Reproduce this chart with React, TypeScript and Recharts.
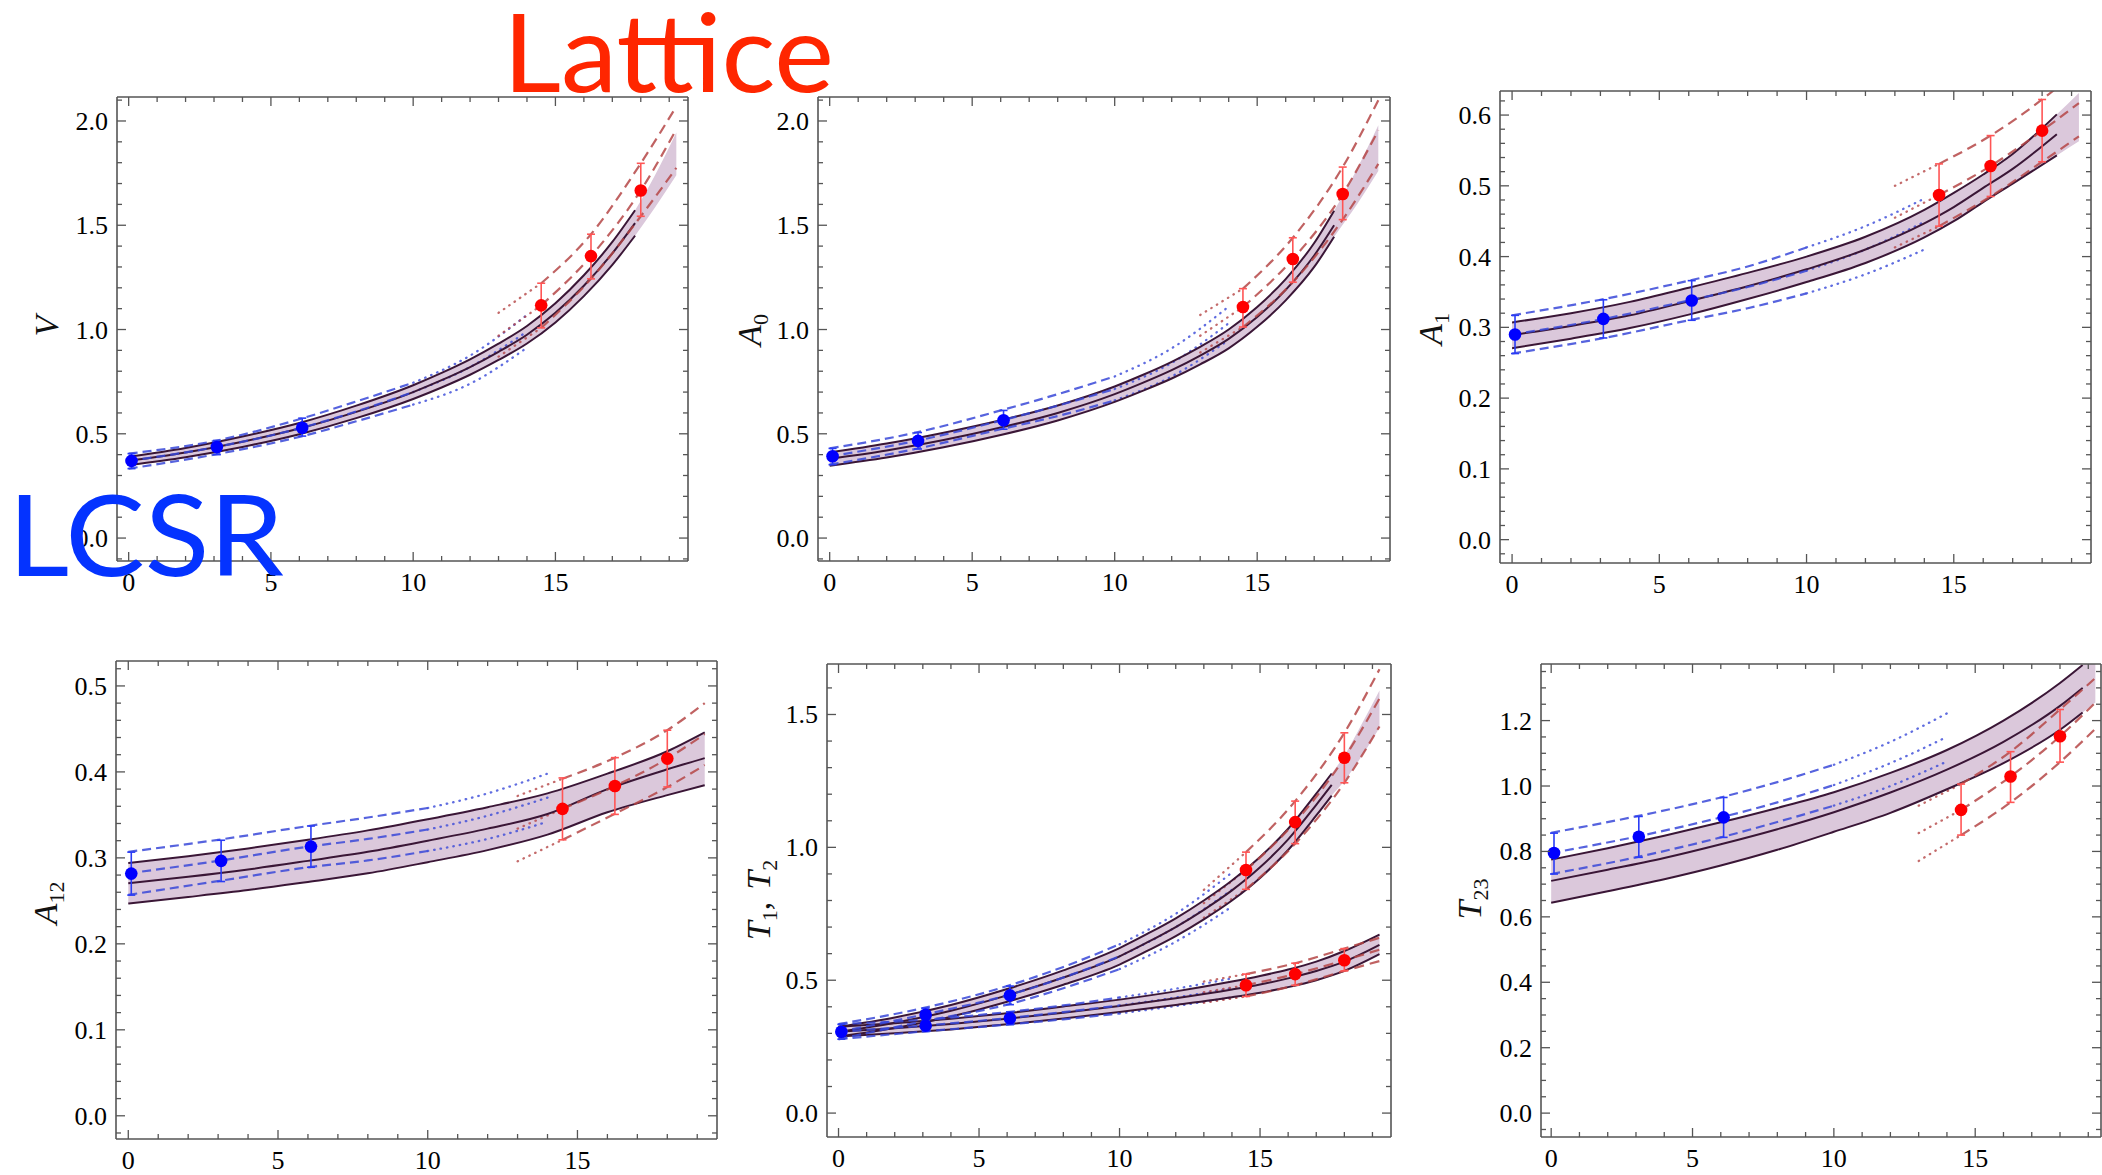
import React from 'react';
import { ComposedChart, Line, Area, Scatter, XAxis, YAxis, ErrorBar } from 'recharts';

// ---------------- tick labels ----------------
const X_MAJOR = [0, 5, 10, 15];
const X_TICKS = [0, 1, 2, 3, 4, 5, 6, 7, 8, 9, 10, 11, 12, 13, 14, 15, 16, 17, 18, 19];
const V_Y_MAJOR = [0, 0.5, 1, 1.5, 2];
const A0_Y_MAJOR = [0, 0.5, 1, 1.5, 2];
const A1_Y_MAJOR = [0, 0.1, 0.2, 0.3, 0.4, 0.5, 0.6];
const A12_Y_MAJOR = [0, 0.1, 0.2, 0.3, 0.4, 0.5];
const T12_Y_MAJOR = [0, 0.5, 1, 1.5];
const T23_Y_MAJOR = [0, 0.2, 0.4, 0.6, 0.8, 1.0, 1.2];

// ---------------- V ----------------
const V_FIT_Q = [0, 2, 4, 6, 8, 10, 11, 12, 13, 14, 15, 16, 17, 17.8];
const V_FIT_HI = [0.39, 0.432, 0.487, 0.552, 0.635, 0.733, 0.792, 0.857, 0.932, 1.017, 1.126, 1.26, 1.42, 1.572];
const V_FIT_MID = [0.37, 0.41, 0.462, 0.525, 0.605, 0.7, 0.757, 0.82, 0.893, 0.975, 1.08, 1.21, 1.365, 1.51];
const V_FIT_LO = [0.35, 0.388, 0.437, 0.498, 0.575, 0.667, 0.722, 0.783, 0.854, 0.933, 1.034, 1.16, 1.31, 1.45];
const V_BAND_Q = [0, 2, 4, 6, 8, 10, 11, 12, 13, 14, 15, 16, 17, 17.8, 18.5, 19.25];
const V_BAND_HI = [0.39, 0.432, 0.487, 0.552, 0.635, 0.733, 0.792, 0.857, 0.932, 1.017, 1.126, 1.26, 1.42, 1.572, 1.74, 1.945];
const V_BAND_LO = [0.35, 0.388, 0.437, 0.498, 0.575, 0.667, 0.722, 0.783, 0.854, 0.933, 1.034, 1.16, 1.31, 1.45, 1.585, 1.74];
const V_LCSR_Q = [0, 3, 6, 8, 10];
const V_LCSR_HI = [0.405, 0.465, 0.57, 0.655, 0.745];
const V_LCSR_MID = [0.37, 0.435, 0.526, 0.607, 0.7];
const V_LCSR_LO = [0.333, 0.4, 0.485, 0.56, 0.64];
const V_LCSR_EXT_Q = [10, 12, 14];
const V_LCSR_EXT_HI = [0.745, 0.875, 1.07];
const V_LCSR_EXT_MID = [0.7, 0.82, 0.99];
const V_LCSR_EXT_LO = [0.64, 0.74, 0.913];
const V_LAT_EXT_Q = [13, 14.5];
const V_LAT_EXT_HI = [1.08, 1.222];
const V_LAT_EXT_MID = [0.97, 1.116];
const V_LAT_EXT_LO = [0.87, 1.008];
const V_LAT_Q = [14.5, 16.25, 18, 19.25];
const V_LAT_HI = [1.222, 1.457, 1.797, 2.07];
const V_LAT_MID = [1.116, 1.352, 1.667, 1.96];
const V_LAT_LO = [1.008, 1.243, 1.543, 1.775];
const V_PT_LCSR_Q = [0.1, 3.1, 6.1];
const V_PT_LCSR_V = [0.37, 0.437, 0.529];
const V_PT_LCSR_ELO = [0.037, 0.037, 0.04];
const V_PT_LCSR_EHI = [0.035, 0.031, 0.046];
const V_PT_LAT_Q = [14.5, 16.25, 18];
const V_PT_LAT_V = [1.116, 1.352, 1.667];
const V_PT_LAT_ELO = [0.108, 0.109, 0.124];
const V_PT_LAT_EHI = [0.106, 0.105, 0.13];

// ---------------- A0 ----------------
const A0_FIT_Q = [0, 2, 4, 6, 8, 10, 11, 12, 13, 14, 15, 16, 17, 17.7];
const A0_FIT_HI = [0.41, 0.453, 0.505, 0.565, 0.636, 0.727, 0.783, 0.845, 0.917, 1.0, 1.108, 1.242, 1.415, 1.57];
const A0_FIT_MID = [0.38, 0.42, 0.47, 0.53, 0.6, 0.69, 0.745, 0.805, 0.875, 0.955, 1.06, 1.19, 1.355, 1.5];
const A0_FIT_LO = [0.347, 0.386, 0.435, 0.494, 0.564, 0.653, 0.707, 0.765, 0.833, 0.91, 1.013, 1.14, 1.3, 1.445];
const A0_BAND_Q = [0, 2, 4, 6, 8, 10, 11, 12, 13, 14, 15, 16, 17, 17.7, 18.5, 19.25];
const A0_BAND_HI = [0.41, 0.453, 0.505, 0.565, 0.636, 0.727, 0.783, 0.845, 0.917, 1.0, 1.108, 1.242, 1.415, 1.57, 1.77, 1.98];
const A0_BAND_LO = [0.347, 0.386, 0.435, 0.494, 0.564, 0.653, 0.707, 0.765, 0.833, 0.91, 1.013, 1.14, 1.3, 1.445, 1.6, 1.76];
const A0_LCSR_Q = [0, 3, 6, 8, 10];
const A0_LCSR_HI = [0.43, 0.505, 0.612, 0.69, 0.775];
const A0_LCSR_MID = [0.392, 0.465, 0.563, 0.635, 0.715];
const A0_LCSR_LO = [0.352, 0.427, 0.522, 0.585, 0.66];
const A0_LCSR_EXT_Q = [10, 12, 14];
const A0_LCSR_EXT_HI = [0.775, 0.91, 1.11];
const A0_LCSR_EXT_MID = [0.715, 0.84, 1.03];
const A0_LCSR_EXT_LO = [0.66, 0.775, 0.95];
const A0_LAT_EXT_Q = [13, 14.5];
const A0_LAT_EXT_HI = [1.07, 1.196];
const A0_LAT_EXT_MID = [0.97, 1.108];
const A0_LAT_EXT_LO = [0.89, 1.012];
const A0_LAT_Q = [14.5, 16.25, 18, 19.25];
const A0_LAT_HI = [1.196, 1.44, 1.779, 2.1];
const A0_LAT_MID = [1.108, 1.338, 1.65, 1.955];
const A0_LAT_LO = [1.012, 1.227, 1.527, 1.794];
const A0_PT_LCSR_Q = [0.1, 3.1, 6.1];
const A0_PT_LCSR_V = [0.392, 0.466, 0.565];
const A0_PT_LCSR_ELO = [0.04, 0.039, 0.043];
const A0_PT_LCSR_EHI = [0.038, 0.04, 0.047];
const A0_PT_LAT_Q = [14.5, 16.25, 18];
const A0_PT_LAT_V = [1.108, 1.338, 1.65];
const A0_PT_LAT_ELO = [0.096, 0.111, 0.123];
const A0_PT_LAT_EHI = [0.088, 0.102, 0.129];

// ---------------- A1 ----------------
const A1_FIT_Q = [0, 2, 4, 6, 8, 10, 12, 14, 15, 16, 17, 18.5];
const A1_FIT_HI = [0.307, 0.32, 0.336, 0.356, 0.377, 0.4, 0.428, 0.466, 0.49, 0.516, 0.545, 0.601];
const A1_FIT_MID = [0.289, 0.302, 0.317, 0.337, 0.358, 0.382, 0.41, 0.447, 0.47, 0.497, 0.524, 0.573];
const A1_FIT_LO = [0.2705, 0.284, 0.299, 0.318, 0.34, 0.364, 0.391, 0.427, 0.45, 0.477, 0.503, 0.543];
const A1_BAND_Q = [0, 2, 4, 6, 8, 10, 12, 14, 15, 16, 17, 18.5, 19.25];
const A1_BAND_HI = [0.307, 0.32, 0.336, 0.356, 0.377, 0.4, 0.428, 0.466, 0.49, 0.516, 0.545, 0.601, 0.631];
const A1_BAND_LO = [0.2705, 0.284, 0.299, 0.318, 0.34, 0.364, 0.391, 0.427, 0.45, 0.477, 0.503, 0.543, 0.563];
const A1_LCSR_Q = [0, 3, 6, 8, 10];
const A1_LCSR_HI = [0.317, 0.339, 0.366, 0.386, 0.413];
const A1_LCSR_MID = [0.29, 0.311, 0.338, 0.357, 0.38];
const A1_LCSR_LO = [0.263, 0.284, 0.31, 0.327, 0.348];
const A1_LCSR_EXT_Q = [10, 12, 14];
const A1_LCSR_EXT_HI = [0.413, 0.443, 0.482];
const A1_LCSR_EXT_MID = [0.38, 0.41, 0.449];
const A1_LCSR_EXT_LO = [0.348, 0.375, 0.41];
const A1_LAT_EXT_Q = [13, 14.5];
const A1_LAT_EXT_HI = [0.5, 0.531];
const A1_LAT_EXT_MID = [0.455, 0.487];
const A1_LAT_EXT_LO = [0.413, 0.443];
const A1_LAT_Q = [14.5, 16.25, 18, 19.25];
const A1_LAT_HI = [0.531, 0.571, 0.622, 0.665];
const A1_LAT_MID = [0.487, 0.528, 0.578, 0.617];
const A1_LAT_LO = [0.443, 0.485, 0.534, 0.57];
const A1_PT_LCSR_Q = [0.1, 3.1, 6.1];
const A1_PT_LCSR_V = [0.29, 0.312, 0.338];
const A1_PT_LCSR_ELO = [0.027, 0.027, 0.028];
const A1_PT_LCSR_EHI = [0.027, 0.027, 0.028];
const A1_PT_LAT_Q = [14.5, 16.25, 18];
const A1_PT_LAT_V = [0.487, 0.528, 0.578];
const A1_PT_LAT_ELO = [0.044, 0.043, 0.044];
const A1_PT_LAT_EHI = [0.044, 0.043, 0.044];

// ---------------- A12 ----------------
const A12_FIT_Q = [0, 2, 4, 6, 8, 10, 12, 14, 16, 18, 19.25];
const A12_FIT_HI = [0.294, 0.302, 0.311, 0.321, 0.332, 0.345, 0.359, 0.375, 0.398, 0.424, 0.446];
const A12_FIT_MID = [0.2706, 0.278, 0.2865, 0.2965, 0.307, 0.32, 0.334, 0.351, 0.38, 0.403, 0.416];
const A12_FIT_LO = [0.247, 0.2545, 0.2625, 0.272, 0.282, 0.295, 0.309, 0.327, 0.353, 0.373, 0.3845];
const A12_LCSR_Q = [0, 3, 6, 8, 10];
const A12_LCSR_HI = [0.307, 0.321, 0.337, 0.347, 0.358];
const A12_LCSR_MID = [0.282, 0.2965, 0.313, 0.322, 0.333];
const A12_LCSR_LO = [0.257, 0.273, 0.289, 0.297, 0.308];
const A12_LCSR_EXT_Q = [10, 12, 14];
const A12_LCSR_EXT_HI = [0.358, 0.375, 0.398];
const A12_LCSR_EXT_MID = [0.333, 0.349, 0.37];
const A12_LCSR_EXT_LO = [0.308, 0.322, 0.342];
const A12_LAT_EXT_Q = [13, 14.5];
const A12_LAT_EXT_HI = [0.372, 0.392];
const A12_LAT_EXT_MID = [0.334, 0.357];
const A12_LAT_EXT_LO = [0.296, 0.321];
const A12_LAT_Q = [14.5, 16.25, 18, 19.25];
const A12_LAT_HI = [0.392, 0.4165, 0.4486, 0.48];
const A12_LAT_MID = [0.357, 0.3836, 0.4155, 0.444];
const A12_LAT_LO = [0.321, 0.3513, 0.3823, 0.408];
const A12_PT_LCSR_Q = [0.1, 3.1, 6.1];
const A12_PT_LCSR_V = [0.2817, 0.2965, 0.3131];
const A12_PT_LCSR_ELO = [0.025, 0.024, 0.024];
const A12_PT_LCSR_EHI = [0.025, 0.024, 0.024];
const A12_PT_LAT_Q = [14.5, 16.25, 18];
const A12_PT_LAT_V = [0.357, 0.3836, 0.4155];
const A12_PT_LAT_ELO = [0.036, 0.033, 0.033];
const A12_PT_LAT_EHI = [0.036, 0.033, 0.033];

// ---------------- T1 ----------------
const T1_FIT_Q = [0, 2, 4, 6, 8, 10, 11, 12, 13, 14, 15, 16, 17, 17.55];
const T1_FIT_HI = [0.325, 0.36, 0.407, 0.467, 0.537, 0.621, 0.675, 0.733, 0.8, 0.875, 0.964, 1.07, 1.202, 1.278];
const T1_FIT_MID = [0.306, 0.34, 0.385, 0.443, 0.51, 0.59, 0.643, 0.7, 0.765, 0.838, 0.925, 1.03, 1.16, 1.235];
const T1_FIT_LO = [0.288, 0.32, 0.363, 0.419, 0.483, 0.559, 0.611, 0.666, 0.729, 0.8, 0.885, 0.99, 1.12, 1.195];
const T1_BAND_Q = [0, 2, 4, 6, 8, 10, 11, 12, 13, 14, 15, 16, 17, 17.55, 18, 18.6, 19.25];
const T1_BAND_HI = [0.325, 0.36, 0.407, 0.467, 0.537, 0.621, 0.675, 0.733, 0.8, 0.875, 0.964, 1.07, 1.202, 1.278, 1.345, 1.46, 1.59];
const T1_BAND_LO = [0.288, 0.32, 0.363, 0.419, 0.483, 0.559, 0.611, 0.666, 0.729, 0.8, 0.885, 0.99, 1.12, 1.195, 1.25, 1.34, 1.45];
const T1_LCSR_Q = [0, 3, 6, 8, 10];
const T1_LCSR_HI = [0.335, 0.395, 0.478, 0.55, 0.635];
const T1_LCSR_MID = [0.306, 0.37, 0.443, 0.51, 0.59];
const T1_LCSR_LO = [0.278, 0.345, 0.408, 0.47, 0.542];
const T1_LCSR_EXT_Q = [10, 12, 14];
const T1_LCSR_EXT_HI = [0.635, 0.75, 0.905];
const T1_LCSR_EXT_MID = [0.59, 0.7, 0.84];
const T1_LCSR_EXT_LO = [0.542, 0.645, 0.777];
const T1_LAT_EXT_Q = [13, 14.5];
const T1_LAT_EXT_HI = [0.84, 0.982];
const T1_LAT_EXT_MID = [0.79, 0.915];
const T1_LAT_EXT_LO = [0.735, 0.842];
const T1_LAT_Q = [14.5, 16.25, 18, 19.25];
const T1_LAT_HI = [0.982, 1.174, 1.431, 1.67];
const T1_LAT_MID = [0.915, 1.095, 1.337, 1.56];
const T1_LAT_LO = [0.842, 1.014, 1.243, 1.455];
const T1_PT_LCSR_Q = [0.1, 3.1, 6.1];
const T1_PT_LCSR_V = [0.306, 0.37, 0.443];
const T1_PT_LCSR_ELO = [0.028, 0.025, 0.035];
const T1_PT_LCSR_EHI = [0.028, 0.025, 0.035];
const T1_PT_LAT_Q = [14.5, 16.25, 18];
const T1_PT_LAT_V = [0.915, 1.095, 1.337];
const T1_PT_LAT_ELO = [0.073, 0.081, 0.094];
const T1_PT_LAT_EHI = [0.067, 0.079, 0.094];

// ---------------- T2 ----------------
const T2_FIT_Q = [0, 2, 4, 6, 8, 10, 12, 14, 15, 16, 17, 18, 19.25];
const T2_FIT_HI = [0.325, 0.338, 0.355, 0.376, 0.401, 0.427, 0.458, 0.495, 0.516, 0.54, 0.57, 0.61, 0.672];
const T2_FIT_MID = [0.306, 0.319, 0.335, 0.355, 0.378, 0.403, 0.432, 0.465, 0.484, 0.507, 0.535, 0.57, 0.633];
const T2_FIT_LO = [0.288, 0.3, 0.315, 0.334, 0.356, 0.38, 0.407, 0.436, 0.453, 0.474, 0.5, 0.535, 0.598];
const T2_LCSR_Q = [0, 3, 6, 8, 10];
const T2_LCSR_HI = [0.335, 0.351, 0.38, 0.405, 0.435];
const T2_LCSR_MID = [0.306, 0.329, 0.357, 0.38, 0.405];
const T2_LCSR_LO = [0.278, 0.307, 0.333, 0.353, 0.375];
const T2_LCSR_EXT_Q = [10, 12, 14];
const T2_LCSR_EXT_HI = [0.435, 0.468, 0.507];
const T2_LCSR_EXT_MID = [0.405, 0.435, 0.47];
const T2_LCSR_EXT_LO = [0.375, 0.403, 0.435];
const T2_LAT_EXT_Q = [13, 14.5];
const T2_LAT_EXT_HI = [0.495, 0.523];
const T2_LAT_EXT_MID = [0.455, 0.481];
const T2_LAT_EXT_LO = [0.415, 0.439];
const T2_LAT_Q = [14.5, 16.25, 18, 19.25];
const T2_LAT_HI = [0.523, 0.564, 0.619, 0.66];
const T2_LAT_MID = [0.481, 0.523, 0.575, 0.615];
const T2_LAT_LO = [0.439, 0.481, 0.535, 0.572];
const T2_PT_LCSR_Q = [3.1, 6.1];
const T2_PT_LCSR_V = [0.329, 0.357];
const T2_PT_LCSR_ELO = [0.022, 0.024];
const T2_PT_LCSR_EHI = [0.022, 0.024];
const T2_PT_LAT_Q = [14.5, 16.25, 18];
const T2_PT_LAT_V = [0.481, 0.523, 0.575];
const T2_PT_LAT_ELO = [0.042, 0.042, 0.04];
const T2_PT_LAT_EHI = [0.042, 0.041, 0.044];

// ---------------- T23 ----------------
const T23_FIT_Q = [0, 2, 4, 6, 8, 10, 12, 14, 16, 18, 18.8];
const T23_FIT_HI = [0.775, 0.81, 0.848, 0.889, 0.933, 0.981, 1.04, 1.11, 1.2, 1.315, 1.37];
const T23_FIT_MID = [0.71, 0.744, 0.78, 0.822, 0.868, 0.92, 0.98, 1.05, 1.135, 1.245, 1.3];
const T23_FIT_LO = [0.643, 0.678, 0.715, 0.757, 0.805, 0.86, 0.918, 0.99, 1.07, 1.172, 1.225];
const T23_BAND_Q = [0, 2, 4, 6, 8, 10, 12, 14, 16, 18, 18.8, 19.25];
const T23_BAND_HI = [0.775, 0.81, 0.848, 0.889, 0.933, 0.981, 1.04, 1.11, 1.2, 1.315, 1.37, 1.405];
const T23_BAND_LO = [0.643, 0.678, 0.715, 0.757, 0.805, 0.86, 0.918, 0.99, 1.07, 1.172, 1.225, 1.255];
const T23_LCSR_Q = [0, 3, 6, 8, 10];
const T23_LCSR_HI = [0.857, 0.907, 0.965, 1.012, 1.065];
const T23_LCSR_MID = [0.795, 0.845, 0.904, 0.95, 1.003];
const T23_LCSR_LO = [0.731, 0.782, 0.843, 0.89, 0.94];
const T23_LCSR_EXT_Q = [10, 12, 14];
const T23_LCSR_EXT_HI = [1.065, 1.135, 1.222];
const T23_LCSR_EXT_MID = [1.003, 1.07, 1.15];
const T23_LCSR_EXT_LO = [0.94, 1.0, 1.075];
const T23_LAT_EXT_Q = [13, 14.5];
const T23_LAT_EXT_HI = [0.94, 1.006];
const T23_LAT_EXT_MID = [0.856, 0.927];
const T23_LAT_EXT_LO = [0.771, 0.85];
const T23_LAT_Q = [14.5, 16.25, 18, 19.25];
const T23_LAT_HI = [1.006, 1.105, 1.234, 1.33];
const T23_LAT_MID = [0.927, 1.029, 1.152, 1.255];
const T23_LAT_LO = [0.85, 0.95, 1.073, 1.175];
const T23_PT_LCSR_Q = [0.1, 3.1, 6.1];
const T23_PT_LCSR_V = [0.795, 0.845, 0.904];
const T23_PT_LCSR_ELO = [0.064, 0.063, 0.061];
const T23_PT_LCSR_EHI = [0.061, 0.062, 0.061];
const T23_PT_LAT_Q = [14.5, 16.25, 18];
const T23_PT_LAT_V = [0.927, 1.029, 1.152];
const T23_PT_LAT_ELO = [0.077, 0.079, 0.079];
const T23_PT_LAT_EHI = [0.079, 0.076, 0.082];

// ---------------- styles ----------------
const FRAME = '#555555';
const BAND_FILL = '#dbc8db';
const FIT_COL = '#3a1636';
const LCSR_COL = '#3848d8';
const LAT_COL = '#b54646';
const LCSR_PT = '#0000ff';
const LAT_PT = '#ff0000';
const LCSR_ERR = '#2a3cf5';
const LAT_ERR = '#ff5555';
const SERIF = '"Liberation Serif", "DejaVu Serif", serif';

type Curve = { q: number[]; lo: number[]; mid: number[]; hi: number[] };
type Band = { q: number[]; lo: number[]; hi: number[] };
type Pts = { q: number[]; v: number[]; elo: number[]; ehi: number[] };
type PanelCfg = {
  id: string;
  L: number; T: number; R: number; B: number;
  xDom: [number, number]; yDom: [number, number];
  yMajor: number[]; yMinorStep: number;
  bands: Band[]; fits: Curve[]; lcsr: Curve[]; lcsrExt: Curve[]; lat: Curve[]; latExt: Curve[];
  lcsrPts: Pts[]; latPts: Pts[];
};

const cv = (q: number[], lo: number[], mid: number[], hi: number[]): Curve => ({ q, lo, mid, hi });
const bd = (q: number[], lo: number[], hi: number[]): Band => ({ q, lo, hi });
const pt = (q: number[], v: number[], elo: number[], ehi: number[]): Pts => ({ q, v, elo, ehi });

const X_DOM: [number, number] = [-0.41, 19.66];

const PANELS: PanelCfg[] = [
  {
    id: 'V', L: 117, T: 97, R: 688, B: 561, xDom: X_DOM, yDom: [-0.11, 2.115], yMajor: V_Y_MAJOR, yMinorStep: 0.1,
    bands: [bd(V_BAND_Q, V_BAND_LO, V_BAND_HI)],
    fits: [cv(V_FIT_Q, V_FIT_LO, V_FIT_MID, V_FIT_HI)],
    lcsr: [cv(V_LCSR_Q, V_LCSR_LO, V_LCSR_MID, V_LCSR_HI)],
    lcsrExt: [cv(V_LCSR_EXT_Q, V_LCSR_EXT_LO, V_LCSR_EXT_MID, V_LCSR_EXT_HI)],
    lat: [cv(V_LAT_Q, V_LAT_LO, V_LAT_MID, V_LAT_HI)],
    latExt: [cv(V_LAT_EXT_Q, V_LAT_EXT_LO, V_LAT_EXT_MID, V_LAT_EXT_HI)],
    lcsrPts: [pt(V_PT_LCSR_Q, V_PT_LCSR_V, V_PT_LCSR_ELO, V_PT_LCSR_EHI)],
    latPts: [pt(V_PT_LAT_Q, V_PT_LAT_V, V_PT_LAT_ELO, V_PT_LAT_EHI)],
  },
  {
    id: 'A0', L: 818, T: 97, R: 1390, B: 561, xDom: X_DOM, yDom: [-0.11, 2.115], yMajor: A0_Y_MAJOR, yMinorStep: 0.1,
    bands: [bd(A0_BAND_Q, A0_BAND_LO, A0_BAND_HI)],
    fits: [cv(A0_FIT_Q, A0_FIT_LO, A0_FIT_MID, A0_FIT_HI)],
    lcsr: [cv(A0_LCSR_Q, A0_LCSR_LO, A0_LCSR_MID, A0_LCSR_HI)],
    lcsrExt: [cv(A0_LCSR_EXT_Q, A0_LCSR_EXT_LO, A0_LCSR_EXT_MID, A0_LCSR_EXT_HI)],
    lat: [cv(A0_LAT_Q, A0_LAT_LO, A0_LAT_MID, A0_LAT_HI)],
    latExt: [cv(A0_LAT_EXT_Q, A0_LAT_EXT_LO, A0_LAT_EXT_MID, A0_LAT_EXT_HI)],
    lcsrPts: [pt(A0_PT_LCSR_Q, A0_PT_LCSR_V, A0_PT_LCSR_ELO, A0_PT_LCSR_EHI)],
    latPts: [pt(A0_PT_LAT_Q, A0_PT_LAT_V, A0_PT_LAT_ELO, A0_PT_LAT_EHI)],
  },
  {
    id: 'A1', L: 1500, T: 91, R: 2091, B: 563, xDom: X_DOM, yDom: [-0.033, 0.634], yMajor: A1_Y_MAJOR, yMinorStep: 0.02,
    bands: [bd(A1_BAND_Q, A1_BAND_LO, A1_BAND_HI)],
    fits: [cv(A1_FIT_Q, A1_FIT_LO, A1_FIT_MID, A1_FIT_HI)],
    lcsr: [cv(A1_LCSR_Q, A1_LCSR_LO, A1_LCSR_MID, A1_LCSR_HI)],
    lcsrExt: [cv(A1_LCSR_EXT_Q, A1_LCSR_EXT_LO, A1_LCSR_EXT_MID, A1_LCSR_EXT_HI)],
    lat: [cv(A1_LAT_Q, A1_LAT_LO, A1_LAT_MID, A1_LAT_HI)],
    latExt: [cv(A1_LAT_EXT_Q, A1_LAT_EXT_LO, A1_LAT_EXT_MID, A1_LAT_EXT_HI)],
    lcsrPts: [pt(A1_PT_LCSR_Q, A1_PT_LCSR_V, A1_PT_LCSR_ELO, A1_PT_LCSR_EHI)],
    latPts: [pt(A1_PT_LAT_Q, A1_PT_LAT_V, A1_PT_LAT_ELO, A1_PT_LAT_EHI)],
  },
  {
    id: 'A12', L: 116, T: 661, R: 717, B: 1139, xDom: X_DOM, yDom: [-0.027, 0.529], yMajor: A12_Y_MAJOR, yMinorStep: 0.02,
    bands: [bd(A12_FIT_Q, A12_FIT_LO, A12_FIT_HI)],
    fits: [cv(A12_FIT_Q, A12_FIT_LO, A12_FIT_MID, A12_FIT_HI)],
    lcsr: [cv(A12_LCSR_Q, A12_LCSR_LO, A12_LCSR_MID, A12_LCSR_HI)],
    lcsrExt: [cv(A12_LCSR_EXT_Q, A12_LCSR_EXT_LO, A12_LCSR_EXT_MID, A12_LCSR_EXT_HI)],
    lat: [cv(A12_LAT_Q, A12_LAT_LO, A12_LAT_MID, A12_LAT_HI)],
    latExt: [cv(A12_LAT_EXT_Q, A12_LAT_EXT_LO, A12_LAT_EXT_MID, A12_LAT_EXT_HI)],
    lcsrPts: [pt(A12_PT_LCSR_Q, A12_PT_LCSR_V, A12_PT_LCSR_ELO, A12_PT_LCSR_EHI)],
    latPts: [pt(A12_PT_LAT_Q, A12_PT_LAT_V, A12_PT_LAT_ELO, A12_PT_LAT_EHI)],
  },
  {
    id: 'T12', L: 827, T: 664, R: 1391, B: 1137, xDom: X_DOM, yDom: [-0.09, 1.69], yMajor: T12_Y_MAJOR, yMinorStep: 0.1,
    bands: [bd(T1_BAND_Q, T1_BAND_LO, T1_BAND_HI), bd(T2_FIT_Q, T2_FIT_LO, T2_FIT_HI)],
    fits: [cv(T1_FIT_Q, T1_FIT_LO, T1_FIT_MID, T1_FIT_HI), cv(T2_FIT_Q, T2_FIT_LO, T2_FIT_MID, T2_FIT_HI)],
    lcsr: [cv(T1_LCSR_Q, T1_LCSR_LO, T1_LCSR_MID, T1_LCSR_HI), cv(T2_LCSR_Q, T2_LCSR_LO, T2_LCSR_MID, T2_LCSR_HI)],
    lcsrExt: [cv(T1_LCSR_EXT_Q, T1_LCSR_EXT_LO, T1_LCSR_EXT_MID, T1_LCSR_EXT_HI), cv(T2_LCSR_EXT_Q, T2_LCSR_EXT_LO, T2_LCSR_EXT_MID, T2_LCSR_EXT_HI)],
    lat: [cv(T1_LAT_Q, T1_LAT_LO, T1_LAT_MID, T1_LAT_HI), cv(T2_LAT_Q, T2_LAT_LO, T2_LAT_MID, T2_LAT_HI)],
    latExt: [cv(T1_LAT_EXT_Q, T1_LAT_EXT_LO, T1_LAT_EXT_MID, T1_LAT_EXT_HI), cv(T2_LAT_EXT_Q, T2_LAT_EXT_LO, T2_LAT_EXT_MID, T2_LAT_EXT_HI)],
    lcsrPts: [pt(T1_PT_LCSR_Q, T1_PT_LCSR_V, T1_PT_LCSR_ELO, T1_PT_LCSR_EHI), pt(T2_PT_LCSR_Q, T2_PT_LCSR_V, T2_PT_LCSR_ELO, T2_PT_LCSR_EHI)],
    latPts: [pt(T1_PT_LAT_Q, T1_PT_LAT_V, T1_PT_LAT_ELO, T1_PT_LAT_EHI), pt(T2_PT_LAT_Q, T2_PT_LAT_V, T2_PT_LAT_ELO, T2_PT_LAT_EHI)],
  },
  {
    id: 'T23', L: 1541, T: 664, R: 2101, B: 1137, xDom: [-0.36, 19.45], yDom: [-0.073, 1.373], yMajor: T23_Y_MAJOR, yMinorStep: 0.05,
    bands: [bd(T23_BAND_Q, T23_BAND_LO, T23_BAND_HI)],
    fits: [cv(T23_FIT_Q, T23_FIT_LO, T23_FIT_MID, T23_FIT_HI)],
    lcsr: [cv(T23_LCSR_Q, T23_LCSR_LO, T23_LCSR_MID, T23_LCSR_HI)],
    lcsrExt: [cv(T23_LCSR_EXT_Q, T23_LCSR_EXT_LO, T23_LCSR_EXT_MID, T23_LCSR_EXT_HI)],
    lat: [cv(T23_LAT_Q, T23_LAT_LO, T23_LAT_MID, T23_LAT_HI)],
    latExt: [cv(T23_LAT_EXT_Q, T23_LAT_EXT_LO, T23_LAT_EXT_MID, T23_LAT_EXT_HI)],
    lcsrPts: [pt(T23_PT_LCSR_Q, T23_PT_LCSR_V, T23_PT_LCSR_ELO, T23_PT_LCSR_EHI)],
    latPts: [pt(T23_PT_LAT_Q, T23_PT_LAT_V, T23_PT_LAT_ELO, T23_PT_LAT_EHI)],
  },
];

function minorTicks(dom: [number, number], step: number): number[] {
  const out: number[] = [];
  const start = Math.ceil(dom[0] / step - 1e-9);
  const end = Math.floor(dom[1] / step + 1e-9);
  for (let k = start; k <= end; k++) out.push(Math.round(k * step * 1e6) / 1e6);
  return out;
}

function mkTick(side: 'bottom' | 'top' | 'left' | 'right', majors: number[], fmt: (v: number) => string) {
  return (p: any) => {
    const v = Number(p.payload && p.payload.value);
    const isMaj = majors.some((m) => Math.abs(m - v) < 1e-6);
    const len = isMaj ? 9 : 5;
    const x = p.x;
    const y = p.y;
    let x2 = x;
    let y2 = y;
    if (side === 'bottom') y2 = y - len;
    if (side === 'top') y2 = y + len;
    if (side === 'left') x2 = x + len;
    if (side === 'right') x2 = x - len;
    return (
      <g>
        <line x1={x} y1={y} x2={x2} y2={y2} stroke={FRAME} strokeWidth={1.3} />
        {isMaj && side === 'bottom' ? (
          <text x={x} y={y + 30} textAnchor="middle" fontFamily={SERIF} fontSize={26} fill="#000">{fmt(v)}</text>
        ) : null}
        {isMaj && side === 'left' ? (
          <text x={x - 9} y={y + 9} textAnchor="end" fontFamily={SERIF} fontSize={26} fill="#000">{fmt(v)}</text>
        ) : null}
      </g>
    );
  };
}

const lineRows = (q: number[], v: number[]) => q.map((x, i) => ({ q: x, v: v[i] }));

function Panel({ c }: { c: PanelCfg }) {
  const LW = 80;
  const RW = 1;
  const TH = 1;
  const BH = 45;
  const w = c.R - c.L + LW + RW;
  const h = c.B - c.T + TH + BH;
  const yTicks = minorTicks(c.yDom, c.yMinorStep);
  const fmtY = (v: number) => v.toFixed(1);
  const fmtX = (v: number) => String(v);
  const axisLine = { stroke: FRAME, strokeWidth: 1.6 };
  const items: React.ReactNode[] = [];

  c.bands.forEach((b, i) => {
    items.push(
      <Area
        key={'band' + i}
        data={b.q.map((q, j) => ({ q, r: [b.lo[j], b.hi[j]] }))}
        dataKey="r"
        type="monotone"
        stroke="none"
        fill={BAND_FILL}
        fillOpacity={1}
        dot={false}
        activeDot={false}
        isAnimationActive={false}
        xAxisId={0}
        yAxisId={0}
      />
    );
  });

  const addCurve = (cur: Curve, key: string, stroke: string, width: number, dash: string | undefined, opacity: number, cap: 'butt' | 'round') => {
    (['lo', 'mid', 'hi'] as const).forEach((k) => {
      items.push(
        <Line
          key={key + k}
          data={lineRows(cur.q, cur[k])}
          dataKey="v"
          type="monotone"
          stroke={stroke}
          strokeWidth={width}
          strokeDasharray={dash}
          strokeOpacity={opacity}
          strokeLinecap={cap}
          dot={false}
          activeDot={false}
          isAnimationActive={false}
          xAxisId={0}
          yAxisId={0}
        />
      );
    });
  };

  c.lcsrExt.forEach((cur, i) => addCurve(cur, 'lcsrExt' + i, LCSR_COL, 2.3, '0.5 6', 0.8, 'round'));
  c.latExt.forEach((cur, i) => addCurve(cur, 'latExt' + i, LAT_COL, 2.3, '0.5 6', 0.8, 'round'));
  c.fits.forEach((cur, i) => addCurve(cur, 'fit' + i, FIT_COL, 2, undefined, 1, 'butt'));
  c.lcsr.forEach((cur, i) => addCurve(cur, 'lcsr' + i, LCSR_COL, 2.2, '9 5', 0.85, 'butt'));
  c.lat.forEach((cur, i) => addCurve(cur, 'lat' + i, LAT_COL, 2.2, '10 6', 0.85, 'butt'));

  const addPts = (p: Pts, key: string, col: string, errCol: string) => {
    items.push(
      <Scatter
        key={key}
        data={p.q.map((q, j) => ({ q, v: p.v[j], err: [p.elo[j], p.ehi[j]] }))}
        dataKey="v"
        xAxisId={0}
        yAxisId={0}
        isAnimationActive={false}
        shape={(s: any) => <circle cx={s.cx} cy={s.cy} r={6.3} fill={col} />}
      >
        <ErrorBar dataKey="err" direction="y" width={4} stroke={errCol} strokeWidth={1.6} isAnimationActive={false} />
      </Scatter>
    );
  };
  c.lcsrPts.forEach((p, i) => addPts(p, 'lp' + i, LCSR_PT, LCSR_ERR));
  c.latPts.forEach((p, i) => addPts(p, 'tp' + i, LAT_PT, LAT_ERR));

  return (
    <div style={{ position: 'absolute', left: c.L - LW, top: c.T - TH, width: w, height: h }}>
      <ComposedChart width={w} height={h} margin={{ top: 0, right: 0, bottom: 0, left: 0 }}>
        <XAxis xAxisId={0} dataKey="q" type="number" orientation="bottom" domain={c.xDom} allowDataOverflow ticks={X_TICKS} interval={0} height={BH} tickSize={0} tickMargin={0} tickLine={false} axisLine={axisLine} tick={mkTick('bottom', X_MAJOR, fmtX)} />
        <XAxis xAxisId="top" dataKey="q" type="number" orientation="top" domain={c.xDom} allowDataOverflow ticks={X_TICKS} interval={0} height={TH} tickSize={0} tickMargin={0} tickLine={false} axisLine={axisLine} tick={mkTick('top', X_MAJOR, fmtX)} />
        <YAxis yAxisId={0} type="number" orientation="left" domain={c.yDom} allowDataOverflow ticks={yTicks} interval={0} width={LW} tickSize={0} tickMargin={0} tickLine={false} axisLine={axisLine} tick={mkTick('left', c.yMajor, fmtY)} />
        <YAxis yAxisId="right" type="number" orientation="right" domain={c.yDom} allowDataOverflow ticks={yTicks} interval={0} width={RW} tickSize={0} tickMargin={0} tickLine={false} axisLine={axisLine} tick={mkTick('right', c.yMajor, fmtY)} />
        {items}
      </ComposedChart>
    </div>
  );
}

const FS = 34;
const SUB_FS = 22;

function YLabel({ cx, cy, children }: { cx: number; cy: number; children: React.ReactNode }) {
  return (
    <text
      transform={`translate(${cx + 0.33 * FS},${cy}) rotate(-90)`}
      textAnchor="middle"
      fontFamily={SERIF}
      fontStyle="italic"
      fontSize={FS}
      fill="#111"
    >
      {children}
    </text>
  );
}

export default function App() {
  return (
    <div style={{ position: 'absolute', left: 0, top: 0, width: 2102, height: 1175, overflow: 'hidden', background: '#ffffff' }}>
      {PANELS.map((p) => (
        <Panel key={p.id} c={p} />
      ))}
      <svg width={2102} height={1175} style={{ position: 'absolute', left: 0, top: 0, pointerEvents: 'none' }}>
        <YLabel cx={47} cy={326}>V</YLabel>
        <YLabel cx={750} cy={330}>
          A<tspan fontSize={SUB_FS} fontStyle="normal" dy={7}>0</tspan>
        </YLabel>
        <YLabel cx={1431} cy={329}>
          A<tspan fontSize={SUB_FS} fontStyle="normal" dy={7}>1</tspan>
        </YLabel>
        <YLabel cx={46} cy={903}>
          A<tspan fontSize={SUB_FS} fontStyle="normal" dy={7}>12</tspan>
        </YLabel>
        <YLabel cx={759} cy={900}>
          T<tspan fontSize={SUB_FS} fontStyle="normal" dy={7}>1</tspan>
          <tspan dy={-7} fontStyle="normal">,</tspan>
          <tspan dx={12}>T</tspan>
          <tspan fontSize={SUB_FS} fontStyle="normal" dy={7}>2</tspan>
        </YLabel>
        <YLabel cx={1470} cy={899}>
          T<tspan fontSize={SUB_FS} fontStyle="normal" dy={7}>23</tspan>
        </YLabel>
        <text x={503} y={92} fontFamily="Lato, 'Open Sans', sans-serif" fontSize={108} fill="#ff2600" textLength={331} lengthAdjust="spacingAndGlyphs">Lattice</text>
        <text x={8} y={576} fontFamily="Lato, 'Open Sans', sans-serif" fontSize={112} fill="#0433ff" textLength={276} lengthAdjust="spacingAndGlyphs">LCSR</text>
      </svg>
    </div>
  );
}
